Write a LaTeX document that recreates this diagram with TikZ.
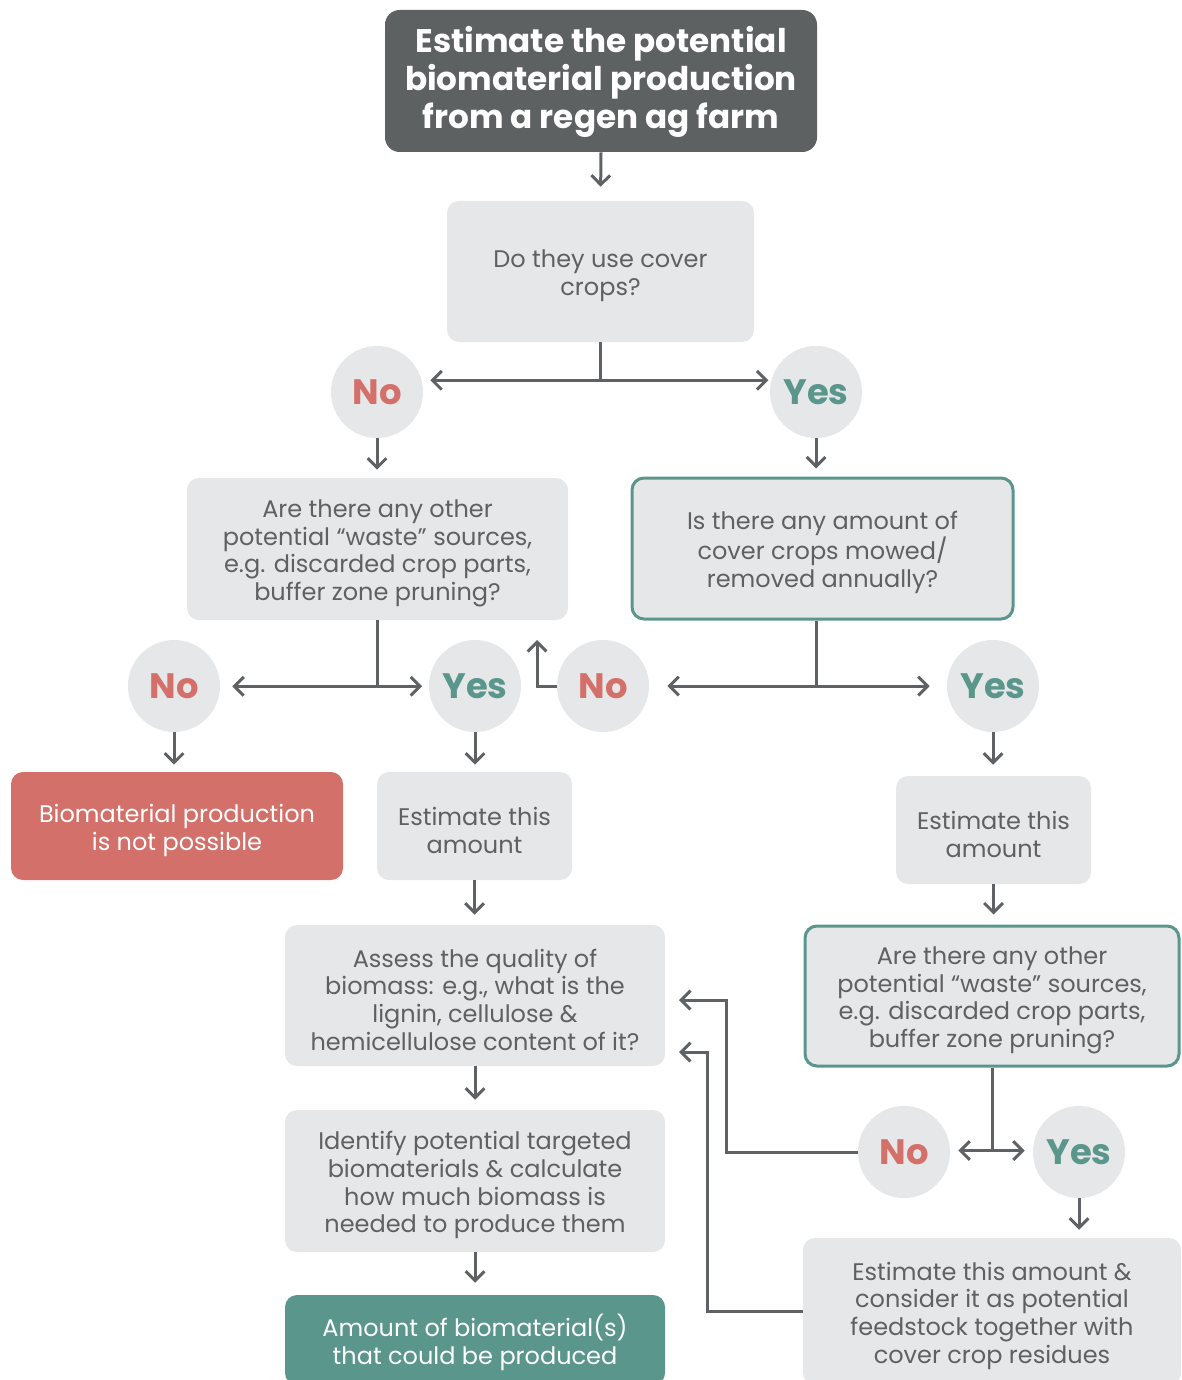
\documentclass[tikz,border=0pt]{standalone}
\usepackage{fontspec}
\setmainfont{Poppins}
\usetikzlibrary{arrows.meta}
\definecolor{darkc}{HTML}{5D6162}
\definecolor{lgray}{HTML}{E6E7E9}
\definecolor{redc}{HTML}{D4706A}
\definecolor{tealc}{HTML}{5A968C}
\definecolor{linec}{HTML}{5F6264}
\newcommand\stb{\rule{0pt}{20pt}}
\newcommand\stt{\rule{0pt}{21pt}}
\begin{document}
\begin{tikzpicture}[x=0.75pt,y=-0.75pt,
  box/.style={rectangle, rounded corners=9pt, fill=lgray, text=darkc, align=center, inner sep=0pt,
    font=\fontsize{18}{20.8}\selectfont},
  sz/.style 2 args={minimum width=#1*0.75pt, minimum height=#2*0.75pt},
  tealb/.style={draw=tealc, line width=2.25pt},
  circ/.style={circle, fill=lgray, minimum size=69pt, inner sep=0pt,
    font=\fontsize{26.5}{26.5}\selectfont\bfseries},
  nocirc/.style={circ, text=redc},
  yescirc/.style={circ, text=tealc},
  ln/.style={draw=linec, line width=2.25pt},
  arr/.style={draw=linec, line width=2.25pt, -{Straight Barb[length=7pt,width=14pt]}},
]
\useasboundingbox (0,0) rectangle (1181,1380);

% nodes
\node[box, sz={432}{142}, fill=darkc, text=white, rounded corners=11pt,
  font=\fontsize{24.5}{28.5}\selectfont\bfseries] (title) at (601,81)
  {\stt Estimate the potential\\biomaterial production\\from a regen ag farm};
\node[box, sz={307}{141}] (q1) at (600.5,271.5) {\stb Do they use cover\\crops?};
\node[nocirc] (no1) at (377,392) {No};
\node[yescirc] (yes1) at (816,392) {Yes};
\node[box, sz={381}{142}] (q2) at (377.5,549)
  {\stb Are there any other\\potential “waste” sources,\\e.g. discarded crop parts,\\buffer zone pruning?};
\node[box, tealb, sz={381}{141}] (q3) at (822.5,548.5)
  {\stb Is there any amount of\\cover crops mowed/\\removed annually?};
\node[nocirc] (no2) at (174,686) {No};
\node[yescirc] (yes2) at (475,686) {Yes};
\node[nocirc] (no3) at (603,686) {No};
\node[yescirc] (yes3) at (993,686) {Yes};
\node[box, sz={332}{108}, fill=redc, text=white] (imp) at (177,826)
  {\stb Biomaterial production\\is not possible};
\node[box, sz={195}{108}] (est1) at (474.5,826) {\stb Estimate this\\amount};
\node[box, sz={195}{108}] (est2) at (993.5,830) {\stb Estimate this\\amount};
\node[box, sz={380}{141}] (assess) at (475,995.5)
  {\stb Assess the quality of\\biomass: e.g., what is the\\lignin, cellulose \&\\hemicellulose content of it?};
\node[box, tealb, sz={374}{140}] (q4) at (992,996)
  {\stb Are there any other\\potential “waste” sources,\\e.g. discarded crop parts,\\buffer zone pruning?};
\node[nocirc] (no4) at (904,1152) {No};
\node[yescirc] (yes4) at (1079,1152) {Yes};
\node[box, sz={380}{142}] (ident) at (475,1181)
  {\stb Identify potential targeted\\biomaterials \& calculate\\how much biomass is\\needed to produce them};
\node[box, sz={380}{90}, fill=tealc, text=white] (final) at (475,1340)
  {\stb Amount of biomaterial(s)\\that could be produced};
\node[box, sz={378}{147}] (est3) at (992,1311.5)
  {\stb Estimate this amount \&\\consider it as potential\\feedstock together with\\cover crop residues};

% connectors
\draw[arr, shorten >=10.5pt] (title.south) -- (q1.north);
\draw[ln] (q1.south) -- ++(0,38) coordinate (s1);
\draw[arr, shorten >=5.25pt] (s1) -- (no1.east |- s1);
\draw[arr, shorten >=1pt] (s1) -- (yes1.west |- s1);
\draw[arr, shorten >=6pt] (no1.south) -- (q2.north -| no1.south);
\draw[arr, shorten >=6pt] (yes1.south) -- (yes1.south |- q3.north);

\draw[ln] (q2.south) -- ++(0,66) coordinate (s2);
\draw[arr, shorten >=9pt] (s2) -- (no2.east |- s2);
\draw[arr, shorten >=5pt] (s2) -- (yes2.west |- s2);

\draw[ln] (yes1 |- q3.south) -- (yes1 |- no3) coordinate (s3);
\draw[arr, shorten >=13.5pt] (s3) -- (no3.east);
\draw[arr, shorten >=12.75pt] (s3) -- (yes3.west);
\coordinate (u3) at (537,640);
\draw[arr] (no3.west) -| (u3);

\draw[arr, shorten >=5.25pt] (no2.south) -- (no2.south |- imp.north);
\draw[arr, shorten >=5.25pt] (yes2.south) -- (yes2.south |- est1.north);
\draw[arr, shorten >=8.25pt] (yes3.south) -- (yes3.south |- est2.north);
\draw[arr, shorten >=7.5pt] (est1.south) -- (est1.south |- assess.north);
\draw[arr, shorten >=7.5pt] (est2.south) -- (est2.south |- q4.north);
\draw[arr, shorten >=7.5pt] (assess.south) -- (ident.north);
\draw[arr, shorten >=9pt] (ident.south) -- (final.north);

\draw[ln] (q4.south) -- ++(0,83) coordinate (s4);
\draw[arr, shorten >=6pt] (s4) -- (no4.east |- s4);
\draw[arr, shorten >=6pt] (s4) -- (yes4.west |- s4);
\draw[arr, shorten >=6pt] (yes4.south) -- (yes4.south |- est3.north);

\coordinate (a1) at (679,1000);
\coordinate (a2) at (679,1052);
\draw[arr] (no4.west) -- ++(-131,0) |- (a1);
\draw[arr] (est3.west) -- ++(-95,0) |- (a2);
\end{tikzpicture}
\end{document}
